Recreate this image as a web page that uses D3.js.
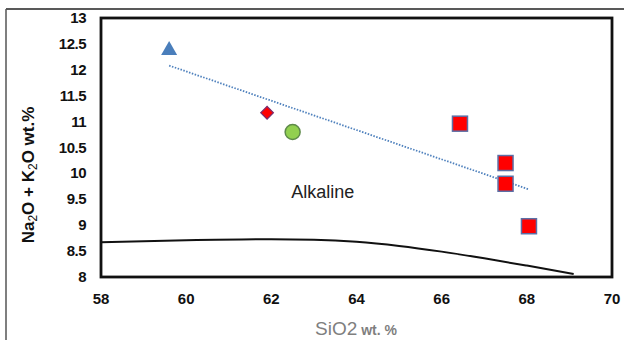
<!DOCTYPE html>
<meta charset="utf-8">
<style>
body { margin: 0; background: #fff; }
text { font-family: "Liberation Sans", Arial, sans-serif; }
</style>
<body>
<script src="https://cdn.jsdelivr.net/npm/d3@7"></script>
<script>
// samples
var triangle = [[59.6, 12.4]];
var diamond = [[61.9, 11.17]];
var circle = [[62.5, 10.8]];
var squares = [[66.43, 10.96], [67.5, 10.2], [67.5, 9.8], [68.05, 8.98]];
// alkaline / subalkaline divide
var divide = [[58, 8.67], [60, 8.71], [62, 8.73], [63, 8.72], [64, 8.68], [65, 8.6], [66, 8.49], [67, 8.36], [68, 8.22], [69.1, 8.06]];
var xTicks = [58, 60, 62, 64, 66, 68, 70];
var yTicks = [8, 8.5, 9, 9.5, 10, 10.5, 11, 11.5, 12, 12.5, 13];

var W = 624, H = 340;
var m = {left: 101, right: 12, top: 18, bottom: 63};

var svg = d3.select("body").append("svg")
    .attr("width", W).attr("height", H);

var x = d3.scaleLinear().domain([58, 70]).range([m.left, W - m.right]);
var y = d3.scaleLinear().domain([8, 13]).range([H - m.bottom, m.top]);

// outer frame
svg.append("line").attr("x1", 6).attr("x2", W).attr("y1", 9).attr("y2", 9)
    .attr("stroke", "#222").attr("stroke-width", 1.5);
svg.append("line").attr("x1", 6).attr("x2", 6).attr("y1", 9).attr("y2", H)
    .attr("stroke", "#555").attr("stroke-width", 1.5);

// plot frame
svg.append("rect")
    .attr("x", x(58)).attr("y", y(13))
    .attr("width", x(70) - x(58)).attr("height", y(8) - y(13))
    .attr("fill", "none").attr("stroke", "#111").attr("stroke-width", 2.8);

// tick labels
svg.selectAll(".xt").data(xTicks).enter().append("text")
    .attr("x", d => x(d)).attr("y", y(8) + 27)
    .attr("text-anchor", "middle")
    .style("font-size", "15px").style("font-weight", "bold").attr("fill", "#111")
    .text(d => d);
svg.selectAll(".yt").data(yTicks).enter().append("text")
    .attr("x", x(58) - 15).attr("y", d => y(d) + 5)
    .attr("text-anchor", "end")
    .style("font-size", "15px").style("font-weight", "bold").attr("fill", "#111")
    .style("letter-spacing", "-0.5px")
    .text(d => d);

// axis titles
var xt = svg.append("text").attr("x", 356).attr("y", 335)
    .attr("text-anchor", "middle").attr("fill", "#7f7f7f");
xt.append("tspan").style("font-size", "19px").text("SiO2");
xt.append("tspan").style("font-size", "14px").style("font-weight", "bold").attr("dx", 4).text("wt. %");

var yt = svg.append("text")
    .attr("transform", "translate(34," + 175 + ") rotate(-90)")
    .attr("text-anchor", "middle").attr("fill", "#111")
    .style("font-size", "17px").style("font-weight", "bold");
yt.append("tspan").text("Na");
yt.append("tspan").style("font-size", "12px").style("font-weight", "normal").attr("dy", 3).text("2");
yt.append("tspan").attr("dy", -3).text("O + K");
yt.append("tspan").style("font-size", "12px").style("font-weight", "normal").attr("dy", 3).text("2");
yt.append("tspan").attr("dy", -3).text("O wt.%");

// dividing curve
svg.append("path").datum(divide)
    .attr("d", d3.line().x(d => x(d[0])).y(d => y(d[1])).curve(d3.curveMonotoneX))
    .attr("fill", "none").attr("stroke", "#111").attr("stroke-width", 2);

svg.append("text").attr("x", x(62.47)).attr("y", y(9.53))
    .style("font-size", "18px").attr("fill", "#222").text("Alkaline");

// linear trend over all samples
var all = triangle.concat(diamond, circle, squares);
var mx = d3.mean(all, d => d[0]), my = d3.mean(all, d => d[1]);
var slope = d3.sum(all, d => (d[0] - mx) * (d[1] - my)) / d3.sum(all, d => (d[0] - mx) * (d[0] - mx));
var ext = d3.extent(all, d => d[0]);
svg.append("line")
    .attr("x1", x(ext[0])).attr("y1", y(my + slope * (ext[0] - mx)))
    .attr("x2", x(ext[1])).attr("y2", y(my + slope * (ext[1] - mx)))
    .attr("stroke", "#4f81bd").attr("stroke-width", 1.8).attr("stroke-dasharray", "1.5,1.5");

// markers
svg.selectAll(".sq").data(squares).enter().append("rect")
    .attr("x", d => x(d[0]) - 7.5).attr("y", d => y(d[1]) - 7.5)
    .attr("width", 15).attr("height", 15)
    .attr("fill", "#ff0000").attr("stroke", "#5b6fa6").attr("stroke-width", 1.5);

svg.selectAll(".ci").data(circle).enter().append("circle")
    .attr("cx", d => x(d[0])).attr("cy", d => y(d[1])).attr("r", 7.5)
    .attr("fill", "#92d050").attr("stroke", "#5e8a4a").attr("stroke-width", 1.5);

svg.selectAll(".di").data(diamond).enter().append("path")
    .attr("d", d3.symbol(d3.symbolSquare, 80))
    .attr("transform", d => "translate(" + x(d[0]) + "," + y(d[1]) + ") rotate(45)")
    .attr("fill", "#ff0000").attr("stroke", "#7a2a6a").attr("stroke-width", 1.2);

svg.selectAll(".tr").data(triangle).enter().append("path")
    .attr("transform", d => "translate(" + x(d[0]) + "," + y(d[1]) + ")")
    .attr("d", "M0,-8L8,6L-8,6Z")
    .attr("fill", "#4a7ebb");
</script>
</body>
